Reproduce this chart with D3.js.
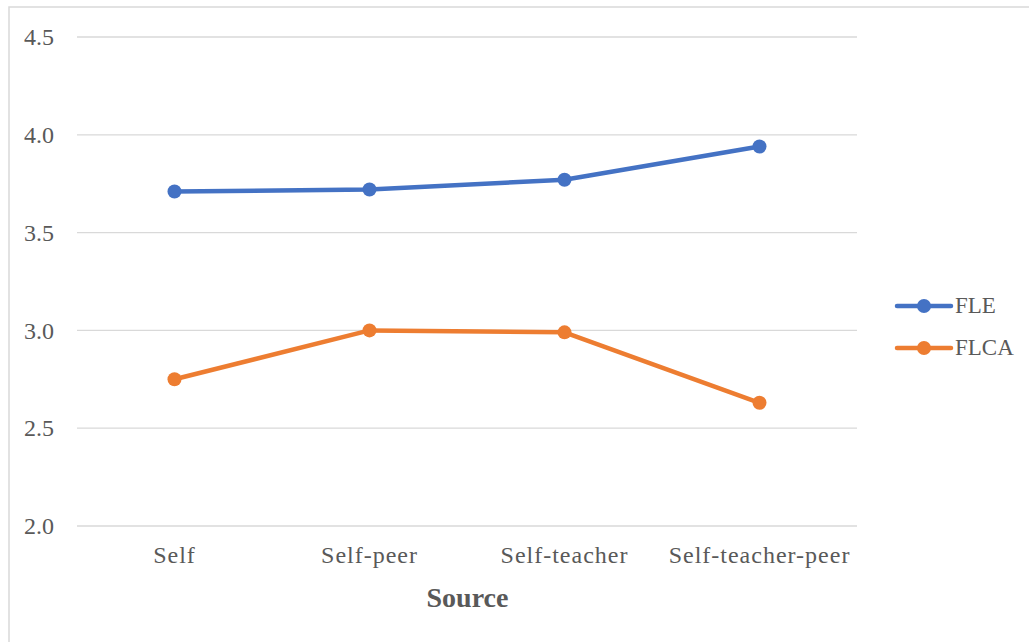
<!DOCTYPE html>
<html lang="en">
<head>
    <meta charset="utf-8">
    <title>FLE and FLCA by Source</title>
    <script src="https://d3js.org/d3.v7.min.js"></script>
    <style type="text/css">
        body { margin: 0; background: white; }
        svg text { font-family: "Liberation Serif", "Times New Roman", "DejaVu Serif", serif !important; }
        .grid line { stroke: #d9d9d9; stroke-width: 1.3px; }
        .axis text { font-size: 24px; fill: #595959; }
        .xaxis text { letter-spacing: 1px; }
        .line { fill: none; stroke-width: 4.5px; stroke-linejoin: round; }
    </style>
</head>
<body>
<script type="text/javascript">
    const w = 1029;
    const h = 642;

    // Data
    const sources = ["Self", "Self-peer", "Self-teacher", "Self-teacher-peer"];
    const fleValues = [3.71, 3.72, 3.77, 3.94];
    const flcaValues = [2.75, 3.00, 2.99, 2.63];
    const yTicks = [2.0, 2.5, 3.0, 3.5, 4.0, 4.5];
    const seriesNames = ["FLE", "FLCA"];
    const colors = ["#4472C4", "#ED7D31"];

    const plotLeft = 77, plotRight = 857, plotTop = 37, plotBottom = 526;

    const svg = d3.select("body")
        .append("svg")
        .attr("width", w)
        .attr("height", h);

    // chart border
    svg.append("rect")
        .attr("x", 9)
        .attr("y", 7)
        .attr("width", 1030)
        .attr("height", 660)
        .attr("fill", "white")
        .attr("stroke", "#d9d9d9")
        .attr("stroke-width", 1.5);

    const xScale = d3.scaleBand()
        .domain(sources)
        .range([plotLeft, plotRight]);

    const yScale = d3.scaleLinear()
        .domain([2.0, 4.5])
        .range([plotBottom, plotTop]);

    // gridlines
    svg.append("g")
        .attr("class", "grid")
        .selectAll("line")
        .data(yTicks)
        .join("line")
        .attr("x1", plotLeft)
        .attr("x2", plotRight)
        .attr("y1", d => yScale(d))
        .attr("y2", d => yScale(d));

    // y axis
    const leftAxis = d3.axisLeft(yScale)
        .tickValues(yTicks)
        .tickFormat(d3.format(".1f"))
        .tickSize(0)
        .tickPadding(23);

    svg.append("g")
        .attr("class", "axis")
        .attr("transform", "translate(" + plotLeft + ",0)")
        .call(leftAxis)
        .call(g => g.select(".domain").remove());

    // x axis
    const bottomAxis = d3.axisBottom(xScale)
        .tickSize(0)
        .tickPadding(20);

    svg.append("g")
        .attr("class", "axis xaxis")
        .attr("transform", "translate(0," + plotBottom + ")")
        .call(bottomAxis)
        .call(g => g.select(".domain").remove());

    // x axis title
    svg.append("text")
        .attr("x", (plotLeft + plotRight) / 2 + 0.5)
        .attr("y", 607)
        .attr("text-anchor", "middle")
        .attr("font-weight", "bold")
        .attr("font-size", "28px")
        .attr("fill", "#595959")
        .text("Source");

    // lines
    const line = d3.line()
        .x((d, i) => xScale(sources[i]) + xScale.bandwidth() / 2)
        .y(d => yScale(d));

    const allSeries = [fleValues, flcaValues];

    allSeries.forEach((vals, k) => {
        svg.append("path")
            .attr("class", "line")
            .attr("stroke", colors[k])
            .attr("d", line(vals));

        svg.append("g")
            .selectAll("circle")
            .data(vals)
            .join("circle")
            .attr("cx", (d, i) => xScale(sources[i]) + xScale.bandwidth() / 2)
            .attr("cy", d => yScale(d))
            .attr("r", 7)
            .attr("fill", colors[k]);
    });

    // legend
    const legend = svg.append("g");
    seriesNames.forEach((name, k) => {
        const ly = 306 + k * 42;
        legend.append("line")
            .attr("x1", 897).attr("x2", 951)
            .attr("y1", ly).attr("y2", ly)
            .attr("stroke", colors[k])
            .attr("stroke-width", 4.5)
            .attr("stroke-linecap", "round");
        legend.append("circle")
            .attr("cx", 924).attr("cy", ly)
            .attr("r", 7)
            .attr("fill", colors[k]);
        legend.append("text")
            .attr("x", 955)
            .attr("y", ly + 7)
            .attr("font-size", "23px")
            .attr("fill", "#595959")
            .text(name);
    });
</script>
</body>
</html>
